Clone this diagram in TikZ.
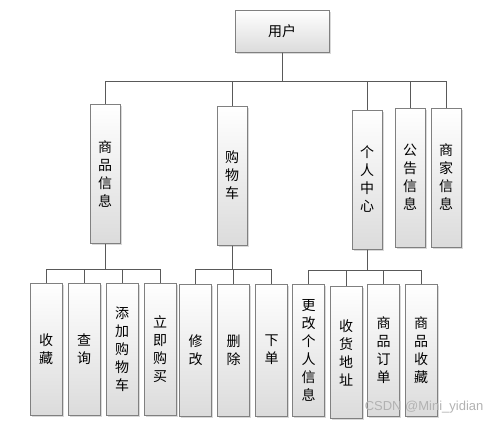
\documentclass[tikz,border=0pt]{standalone}
\usepackage{fontspec}
\setmainfont{Noto Sans CJK SC}
\newfontfamily\markfont{Liberation Sans}
\usetikzlibrary{positioning,shadows}
\tikzset{%
  % Specifications for style of boxes:
          base/.style = {rectangle, draw=black!50, line width=1pt,
                         top color=white, bottom color=black!14,
                         drop shadow={shadow xshift=1.5pt, shadow yshift=-1.5pt, opacity=0.3},
                         inner sep=0pt, align=center,
                         font=\fontsize{14}{18}\selectfont},
       rootbox/.style = {base, minimum width=94pt, minimum height=42pt},
        midbox/.style = {base, minimum width=30pt, minimum height=139pt},
       leafbox/.style = {base, minimum width=32pt, minimum height=132pt},
          link/.style = {draw=black!65, line width=0.9pt}
}

\begin{document}
\begin{tikzpicture}[x=1pt, y=-1pt, node distance=38pt]
  \useasboundingbox (0,0) rectangle (499,424);
  \node (user) [rootbox] at (282,31) {用户};

  \node (goods)    [midbox] at (105,174)   {商\\品\\信\\息};
  \node (cart)     [midbox] at (232,175.5) {购\\物\\车};
  \node (personal) [midbox] at (367,179.5) {个\\人\\中\\心};
  \node (notice)   [midbox] at (410,177.5) {公\\告\\信\\息};
  \node (shop)     [midbox, right of=notice, node distance=36pt] {商\\家\\信\\息};

  % goods
  \node (collect) [leafbox] at (46,349)     {收\\藏};
  \node (query)   [leafbox, right of=collect] {查\\询};
  \node (addcart) [leafbox, right of=query]   {添\\加\\购\\物\\车};
  \node (buynow)  [leafbox, right of=addcart] {立\\即\\购\\买};

  % cart
  \node (modify) [leafbox] at (195.5,350)    {修\\改};
  \node (delete) [leafbox, right of=modify]  {删\\除};
  \node (order)  [leafbox, right of=delete]  {下\\单};

  % personal
  \node (editinfo) [leafbox] at (308.5,350) {更\\改\\个\\人\\信\\息};
  \node (address)  [leafbox, right of=editinfo, node distance=37.5pt, yshift=-2.5pt] {收\\货\\地\\址};
  \node (orders)   [leafbox, right of=editinfo, node distance=75pt] {商\\品\\订\\单};
  \node (favs)     [leafbox, right of=orders, node distance=37.5pt] {商\\品\\收\\藏};

  \foreach \c in {goods,cart,personal,notice,shop}
    \draw[link] (user.south) -- ++(0,29) -| (\c.north);
  \foreach \c in {collect,query,addcart,buynow}
    \draw[link] (goods.south) -- ++(0,25) -| (\c.north);
  \foreach \c in {modify,delete,order}
    \draw[link] (cart.south) -- ++(0,24) -| (\c.north);
  \foreach \c in {editinfo,address,orders,favs}
    \draw[link] (personal.south) -- ++(0,21) -| (\c.north);

  \node (mark) [anchor=east, text=black!30, font=\markfont\fontsize{13}{13}\selectfont] at (487,407) {CSDN @Mini\_yidian};
\end{tikzpicture}
\end{document}
